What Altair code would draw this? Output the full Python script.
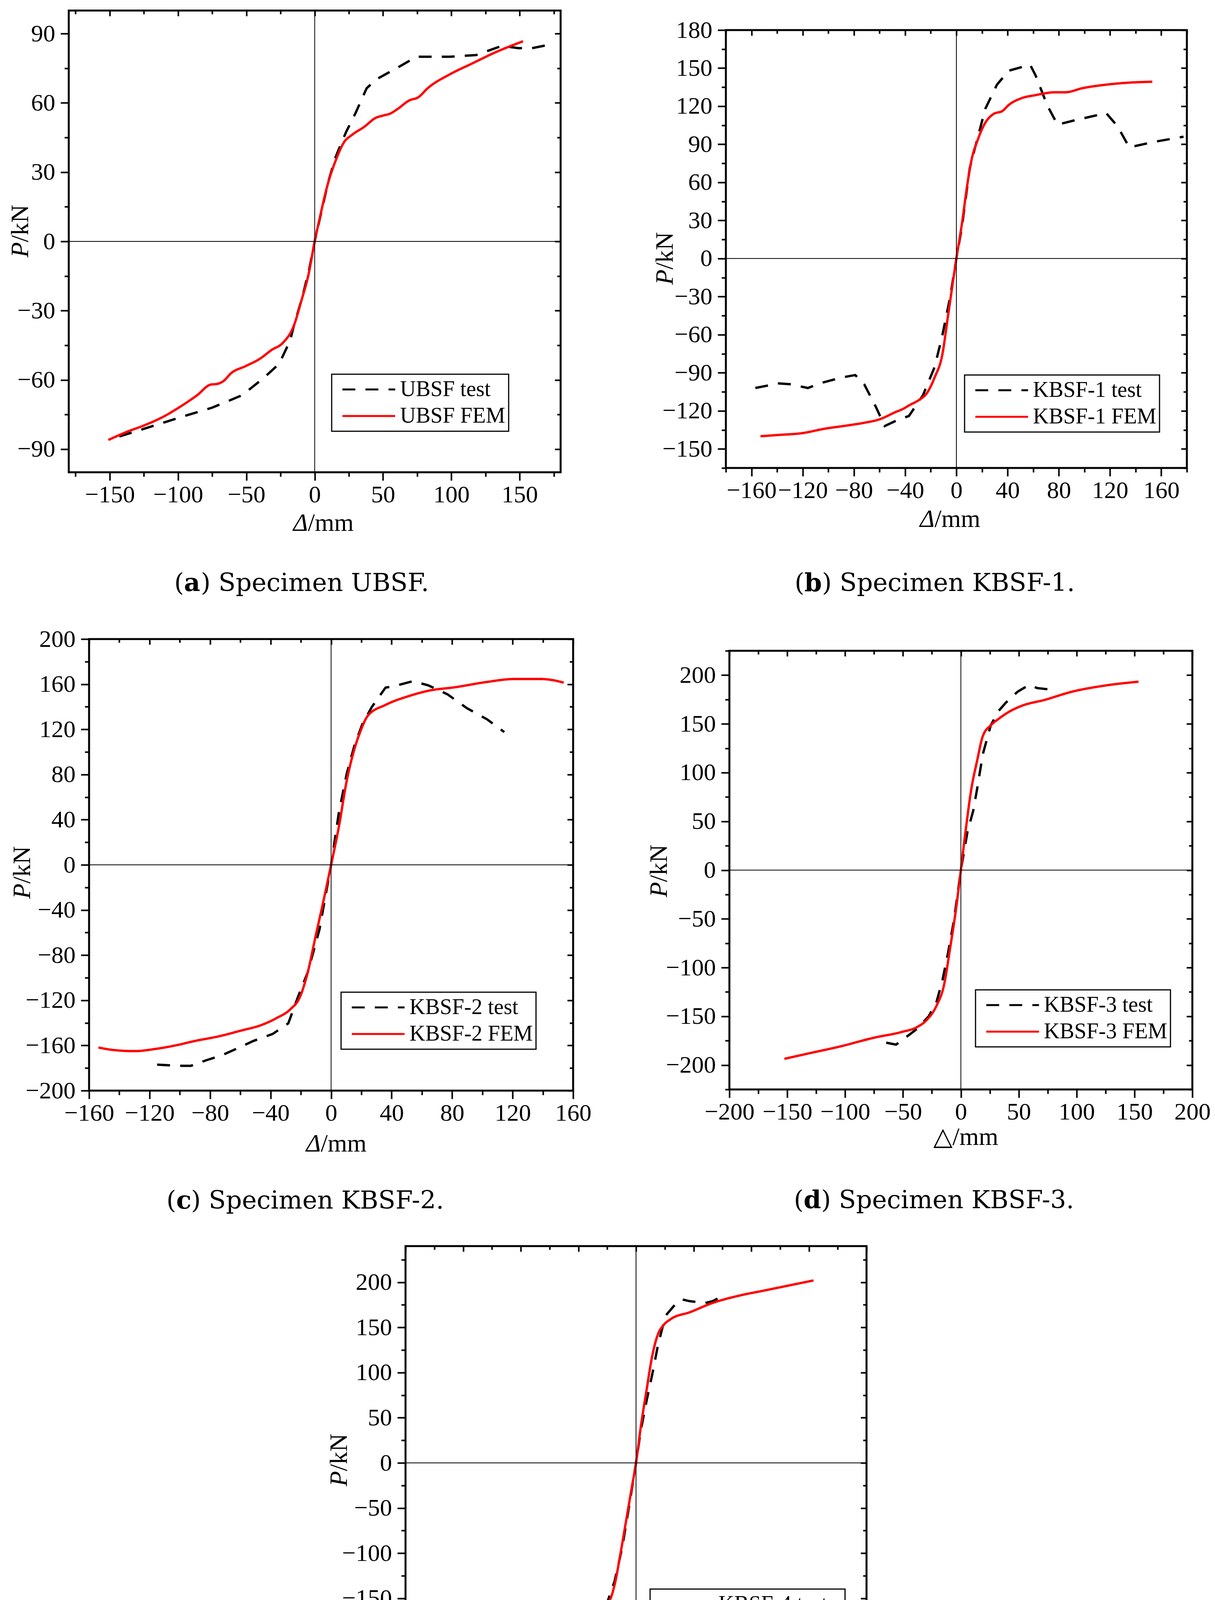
import altair as alt
import pandas as pd

# ---------------- data ----------------
UBSF_TEST_X = [-143, -124, -99.5, -75, -53, -37, -26, -18, -15, -9, -4, 0, 5, 10, 15, 17, 23, 30, 38, 44.6, 61, 74.5, 99, 118, 137, 149, 159, 175]
UBSF_TEST_Y = [-84.5, -81, -76.4, -72, -66.6, -59, -53, -43, -36, -24, -12, 0, 13, 26, 36, 39, 47.4, 55.7, 66.3, 70, 75.4, 80, 80, 80.7, 84.7, 83.7, 83.7, 85.6]
UBSF_FEM_X = [-151, -137.5, -124, -110, -99.5, -86, -76, -72, -67, -61, -50.5, -40, -31.5, -23.4, -15.2, -9.8, -4.3, 0, 3.8, 9.2, 16, 21.5, 27, 36.4, 44.6, 50, 55.4, 61, 69, 76, 82.6, 99, 115, 131.5, 152.5]
UBSF_FEM_Y = [-86, -82.5, -79.5, -75.7, -72, -66.6, -62, -61.8, -60.6, -57, -54, -50.8, -47, -44, -36.4, -25.8, -13.7, 0, 10.4, 24, 36, 43, 46, 49.7, 53.5, 54.5, 55.4, 57.5, 61, 62.5, 66.3, 72.4, 77, 81.7, 86.7]

KBSF1_TEST_X = [-157, -139, -130, -116, -105.5, -90, -79, -72, -62.8, -56, -47.6, -37, -26, -17, -11, -4.9, 0, 4.3, 10.4, 15, 22.6, 31.7, 40.9, 57.6, 62, 71, 79, 92.7, 117, 126, 135, 153.7, 177.4]
KBSF1_TEST_Y = [-102, -98.4, -99, -102, -98, -93.8, -91.8, -99, -117, -132, -128, -124, -107.5, -85.5, -60.8, -30.5, 0, 24.5, 71, 89, 118, 137, 148, 152.7, 144, 120.6, 105.5, 109, 114.6, 104, 87.6, 91.8, 96]
KBSF1_FEM_X = [-153, -139, -120.7, -102.4, -85.7, -72, -59.8, -47.6, -41.5, -37, -29.3, -23, -17, -11, -6.4, 0, 4.3, 8.8, 11.9, 16.5, 22.6, 28.7, 36.3, 40.9, 50, 62, 77.4, 85, 98.8, 117, 132, 153]
KBSF1_FEM_Y = [-140, -139, -137.6, -134, -131.6, -129.4, -126.6, -121, -118.4, -115.7, -111.5, -106, -93.7, -75.8, -44.2, 0, 27.2, 60, 78, 93, 107, 113.7, 116.5, 121, 126, 128.8, 131, 131, 134.3, 137, 138.4, 139.3]

KBSF2_TEST_X = [-115, -100, -92.6, -82.3, -72, -61.7, -51.4, -38.6, -28.3, -21.9, -15.4, -7.7, 0, 5.1, 10.3, 15.4, 20.6, 27, 36, 41, 54, 64.3, 77, 90, 103, 114.5]
KBSF2_TEST_Y = [-177, -178, -178, -173, -168.6, -162.4, -156, -149.8, -140.4, -117, -95, -57.4, 0, 46, 80.6, 105.6, 124.5, 140, 157, 158, 162.7, 159, 151, 138.6, 129, 117.6]
KBSF2_FEM_X = [-153.8, -144, -130, -115.8, -103, -90, -74.6, -59.2, -46.3, -36, -27, -20.6, -15.4, -10.3, -5.1, 0, 5.1, 10.3, 15.4, 19.3, 24.4, 36, 51.4, 64.3, 82.3, 103, 121, 139, 146.6, 153.8]
KBSF2_FEM_Y = [-161.8, -164, -165, -163, -160, -156, -152, -146.7, -142, -135.7, -128, -117, -95, -63.6, -32.3, 0, 33.5, 74.3, 102.5, 118, 132.3, 141.7, 149.5, 154.2, 157.4, 162, 164.6, 164.6, 163.6, 161.4]

KBSF3_TEST_X = [-64.5, -56, -47.8, -37.8, -27.8, -21, -16, -11, -6, 0, 5.7, 10.7, 14, 19, 25.8, 32.4, 39, 49, 59, 66, 79.3]
KBSF3_TEST_Y = [-177, -179, -171.8, -162.7, -150, -135, -113.6, -84.4, -51.7, 0, 39.3, 61, 83, 119, 148.5, 163, 172, 183, 190, 186.7, 185]
KBSF3_FEM_X = [-152.5, -131.4, -104.7, -74.6, -51, -37.8, -29.4, -21, -14.4, -9.4, -4.3, 0, 4, 9, 14, 19, 25.8, 32.4, 42.5, 52.5, 72.6, 96, 122.7, 153.5]
KBSF3_FEM_Y = [-193.6, -188, -181, -171.8, -166, -161, -153.6, -139, -117, -80.8, -40.8, 0, 39.3, 83, 112, 137.6, 148.5, 155, 163, 168.5, 174.7, 183, 189, 193.3]

KBSF4_TEST_X = [-76.8, -64.4, -54.6, -44.8, -35, -25.2, -18.6, -12, -5.6, 0, 4.2, 9.2, 14, 19, 25.5, 33.7, 40, 46.7, 59.8, 66.3, 77.8]
KBSF4_TEST_Y = [-202, -196, -190, -177.8, -167.6, -155.4, -131, -94, -45, 0, 36.3, 69, 97.5, 130, 162.7, 175, 181, 179, 177, 179, 186.3]
KBSF4_FEM_X = [-153, -123, -93.8, -67.6, -48, -31.7, -23.5, -18.6, -13.7, -8.8, -3.9, 0, 4.2, 9.2, 14, 19, 23.9, 30.4, 46.7, 66.3, 89, 112, 154]
KBSF4_FEM_Y = [-202, -194, -187, -177.8, -169.6, -159.4, -153.3, -135, -102, -65.6, -29, 0, 40.4, 81, 118, 142.3, 152.5, 159.4, 166.8, 177, 185, 191, 202]

# axis domains and tick values
X_DOMAINS = [[-180, 180], [-180, 180], [-160, 160], [-200, 200], [-200, 200]]
Y_DOMAINS = [[-100, 100], [-165, 180], [-200, 200], [-225, 225], [-240, 240]]
X_MAJOR = [
    [-150, -100, -50, 0, 50, 100, 150],
    [-160, -120, -80, -40, 0, 40, 80, 120, 160],
    [-160, -120, -80, -40, 0, 40, 80, 120, 160],
    [-200, -150, -100, -50, 0, 50, 100, 150, 200],
    [-200, -150, -100, -50, 0, 50, 100, 150, 200],
]
X_MINOR = [
    [-175, -125, -75, -25, 25, 75, 125, 175],
    [-180, -140, -100, -60, -20, 20, 60, 100, 140, 180],
    [-140, -100, -60, -20, 20, 60, 100, 140],
    [-175, -125, -75, -25, 25, 75, 125, 175],
    [-175, -125, -75, -25, 25, 75, 125, 175],
]
Y_MAJOR = [
    [-90, -60, -30, 0, 30, 60, 90],
    [-150, -120, -90, -60, -30, 0, 30, 60, 90, 120, 150, 180],
    [-200, -160, -120, -80, -40, 0, 40, 80, 120, 160, 200],
    [-200, -150, -100, -50, 0, 50, 100, 150, 200],
    [-200, -150, -100, -50, 0, 50, 100, 150, 200],
]
Y_MINOR = [
    [-75, -45, -15, 15, 45, 75],
    [-165, -135, -105, -75, -45, -15, 15, 45, 75, 105, 135, 165],
    [-180, -140, -100, -60, -20, 20, 60, 100, 140, 180],
    [-225, -175, -125, -75, -25, 25, 75, 125, 175, 225],
    [-225, -175, -125, -75, -25, 25, 75, 125, 175, 225],
]

SPECIMENS = ["UBSF", "KBSF-1", "KBSF-2", "KBSF-3", "KBSF-4"]
SERIES_SUFFIX = [" test", " FEM"]
Y_TITLE = ["P", "/kN"]
X_TITLE_SYMBOL = ["Δ", "Δ", "Δ", "△", "Δ"]
X_TITLE_UNIT = ["/mm", "/mm", "/mm", "/mm", " /mm"]
CAPTION_LETTER = ["a", "b", "c", "d", "e"]
CAPTION_REST = [") Specimen UBSF.", ") Specimen KBSF-1.", ") Specimen KBSF-2.",
                ") Specimen KBSF-3.", ") Specimen KBSF-4."]

TEST_X = [UBSF_TEST_X, KBSF1_TEST_X, KBSF2_TEST_X, KBSF3_TEST_X, KBSF4_TEST_X]
TEST_Y = [UBSF_TEST_Y, KBSF1_TEST_Y, KBSF2_TEST_Y, KBSF3_TEST_Y, KBSF4_TEST_Y]
FEM_X = [UBSF_FEM_X, KBSF1_FEM_X, KBSF2_FEM_X, KBSF3_FEM_X, KBSF4_FEM_X]
FEM_Y = [UBSF_FEM_Y, KBSF1_FEM_Y, KBSF2_FEM_Y, KBSF3_FEM_Y, KBSF4_FEM_Y]

# ---------------- layout / style ----------------
SERIF = "Liberation Serif"
CAP_FONT = "DejaVu Serif"
SIZES = [(1259, 1182), (1180, 1121), (1239, 1156), (1185, 1123), (1180, 1110)]
LEGEND_POS = [(673, 931), (611, 883), (645, 904), (630, 868), (626, 878)]
YTITLE_POS = [(-123, 565), (-155, 585), (-170, 598), (-179, 564), (-169, 548)]
XTITLE_POS = [(651, 1313), (573, 1253), (632, 1293), (610, 1246), (588, 1244)]
CAPTION_POS = [(295, 1486), (201, 1436), (223, 1458), (190, 1427), (181, 1394)]
CAPTION_BOLD_W = [43, 45, 38, 45, 41]


def axis(orient, values, size, labels=False, offset=0, pad=0):
    kw = dict(orient=orient, values=values, tickSize=size, labels=labels, domain=False,
              grid=False, ticks=True, title=None, tickWidth=4, tickColor="black")
    if offset:
        kw["offset"] = offset
    if labels:
        kw.update(labelFont=SERIF, labelFontSize=62, labelColor="black", labelPadding=pad,
                  labelFlush=False, labelOverlap=False, format="d")
    return alt.Axis(**kw)


def text_layer(t, px, py, **mk):
    return alt.Chart(pd.DataFrame({"t": [t]})).mark_text(**mk).encode(
        text="t:N", x=alt.value(px), y=alt.value(py))


def panel(i):
    W, H = SIZES[i]
    xs = alt.Scale(domain=X_DOMAINS[i], nice=False, zero=False)
    ys = alt.Scale(domain=Y_DOMAINS[i], nice=False, zero=False)
    names = [SPECIMENS[i] + s for s in SERIES_SUFFIX]

    test_df = pd.DataFrame({"x": TEST_X[i], "y": TEST_Y[i], "s": names[0],
                            "o": list(range(len(TEST_X[i])))})
    fem_df = pd.DataFrame({"x": FEM_X[i], "y": FEM_Y[i], "s": names[1],
                           "o": list(range(len(FEM_X[i])))})

    leg = alt.Legend(orient="none", legendX=LEGEND_POS[i][0], legendY=LEGEND_POS[i][1],
                     title=None, labelFont=SERIF, labelFontSize=56, labelColor="black",
                     labelLimit=1000, symbolType="stroke", symbolSize=135 * 135,
                     symbolStrokeWidth=5, symbolOffset=17, labelOffset=10, clipHeight=62,
                     rowPadding=6, padding=8, strokeColor="black")
    color = alt.Color("s:N", scale=alt.Scale(domain=names, range=["black", "red"]), legend=leg)
    dash = alt.StrokeDash("s:N", scale=alt.Scale(domain=names, range=[[33, 26], [1, 0]]), legend=leg)

    test = alt.Chart(test_df).mark_line(strokeWidth=6).encode(
        x=alt.X("x:Q", scale=xs, axis=axis("bottom", X_MAJOR[i], 21, True, pad=6)),
        y=alt.Y("y:Q", scale=ys, axis=axis("left", Y_MAJOR[i], 21, True, pad=14)),
        color=color, strokeDash=dash, order="o:Q")
    fem = alt.Chart(fem_df).mark_line(strokeWidth=6, interpolate="monotone").encode(
        x=alt.X("x:Q", scale=xs, axis=None),
        y=alt.Y("y:Q", scale=ys, axis=None),
        color=color, strokeDash=dash, order="o:Q")

    vdf = pd.DataFrame({"x0": [0], "ylo": [Y_DOMAINS[i][0]], "yhi": [Y_DOMAINS[i][1]]})
    hdf = pd.DataFrame({"y0": [0], "xlo": [X_DOMAINS[i][0]], "xhi": [X_DOMAINS[i][1]]})
    vrule = alt.Chart(vdf).mark_rule(color="black", strokeWidth=2).encode(
        x=alt.X("x0:Q", scale=xs, axis=axis("top", X_MAJOR[i], 14, offset=-14)),
        y=alt.Y("ylo:Q", scale=ys, axis=axis("right", Y_MAJOR[i], 15, offset=-15)),
        y2="yhi:Q")
    hrule = alt.Chart(hdf).mark_rule(color="black", strokeWidth=2).encode(
        y=alt.Y("y0:Q", scale=ys, axis=axis("right", Y_MINOR[i], 9, offset=-9)),
        x=alt.X("xlo:Q", scale=xs, axis=axis("top", X_MINOR[i], 9, offset=-9)),
        x2="xhi:Q")
    minor = alt.Chart(hdf).mark_point(opacity=0).encode(
        x=alt.X("xlo:Q", scale=xs, axis=axis("bottom", X_MINOR[i], 11)),
        y=alt.Y("y0:Q", scale=ys, axis=axis("left", Y_MINOR[i], 11)))

    yx, yy = YTITLE_POS[i]
    xx, xy = XTITLE_POS[i]
    cx, cy = CAPTION_POS[i]
    texts = [
        text_layer(Y_TITLE[0], yx, yy + 28, font=SERIF, fontSize=64, fontStyle="italic",
                   angle=270, align="right", baseline="middle", color="black"),
        text_layer(Y_TITLE[1], yx, yy + 28, font=SERIF, fontSize=64,
                   angle=270, align="left", baseline="middle", color="black"),
        text_layer(X_TITLE_SYMBOL[i], xx - 39, xy, font=SERIF, fontSize=64,
                   fontStyle=("normal" if i == 3 else "italic"),
                   align="right", baseline="middle", color="black"),
        text_layer(X_TITLE_UNIT[i], xx - 39, xy, font=SERIF, fontSize=64,
                   align="left", baseline="middle", color="black"),
        text_layer("(", cx, cy, font=CAP_FONT, fontSize=64, align="right",
                   baseline="alphabetic", color="black"),
        text_layer(CAPTION_LETTER[i], cx, cy, font=CAP_FONT, fontSize=64, fontWeight="bold",
                   align="left", baseline="alphabetic", color="black"),
        text_layer(CAPTION_REST[i], cx + CAPTION_BOLD_W[i], cy, font=CAP_FONT, fontSize=64,
                   align="left", baseline="alphabetic", color="black"),
    ]

    return alt.layer(test, fem, vrule, hrule, minor, *texts).resolve_axis(
        x="independent", y="independent").properties(width=W, height=H)


def spacer(w, h):
    return alt.Chart(pd.DataFrame({"v": [0]})).mark_point(opacity=0).encode(
        x=alt.X("v:Q", axis=None), y=alt.Y("v:Q", axis=None)
    ).properties(width=w, height=h, view=alt.ViewBackground(strokeOpacity=0, strokeWidth=0))


def indep(c):
    return c.resolve_scale(color="independent", strokeDash="independent").resolve_legend(
        color="independent", strokeDash="independent")


def shifted(chart, dx, dy):
    # panel placed dx right and dy down inside its grid cell
    inner = indep(alt.hconcat(spacer(dx, 1), chart, spacing=0, bounds="flush"))
    if dy <= 0:
        return inner
    return indep(alt.vconcat(spacer(1, dy), inner, spacing=0, bounds="flush"))


A, B, C, D, E = [panel(i) for i in range(5)]

# column 0: thin spacers that set each row's height; column 1/2: panels
cells = [
    spacer(1, 1211), A, shifted(B, 423, 50),
    spacer(1, 1156), shifted(C, 52, 0), shifted(D, 432, 30),
    spacer(1, 1110), shifted(E, 862, 0), spacer(1, 1),
]

chart = indep(alt.concat(*cells, columns=3, bounds="flush", align="each",
                         spacing={"row": 398, "column": 0})).properties(
    padding={"left": 10, "top": 14, "right": 0, "bottom": 10}, background="white"
).configure_view(stroke="black", strokeWidth=5).configure_legend(strokeWidth=3)

chart.save("out.html", embed_options={"renderer": "svg", "actions": False})
